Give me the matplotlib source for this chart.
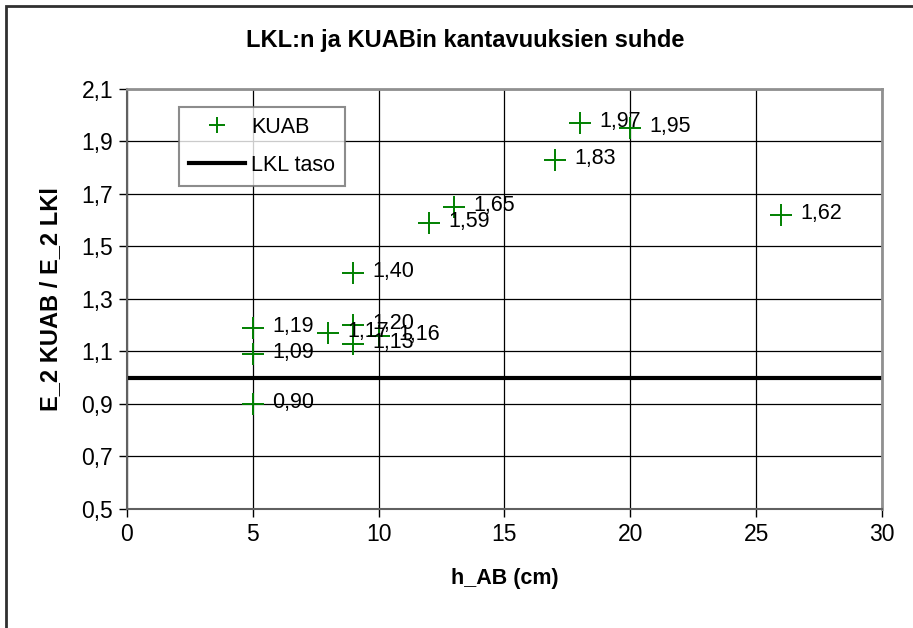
import matplotlib
matplotlib.use("Agg")
import matplotlib.pyplot as plt
from matplotlib.patches import Rectangle

# KUAB / LKL kantavuussuhteet
h_ab = [5, 5, 5, 8, 9, 9, 9, 10, 12, 13, 17, 18, 20, 26]
suhde = [1.19, 1.09, 0.90, 1.17, 1.20, 1.13, 1.40, 1.16, 1.59, 1.65, 1.83, 1.97, 1.95, 1.62]
lkl_taso = 1.0
y_ticks = [0.5, 0.7, 0.9, 1.1, 1.3, 1.5, 1.7, 1.9, 2.1]
x_ticks = [0, 5, 10, 15, 20, 25, 30]

plt.rcParams['font.family'] = ['Liberation Sans', 'DejaVu Sans']

fig = plt.figure(figsize=(9.13, 6.28), dpi=100)
ax = fig.add_axes([0.139, 0.1895, 0.827, 0.669])

ax.plot(h_ab, suhde, linestyle='none', marker='+', color='#008000',
        markersize=16, markeredgewidth=1.4, label='KUAB', zorder=3)
ax.axhline(lkl_taso, color='black', linewidth=3, label='LKL taso', zorder=2)

for x, y in zip(h_ab, suhde):
    ax.annotate(f"{y:.2f}".replace('.', ','), (x, y), xytext=(14, 1),
                textcoords='offset points', va='center', ha='left',
                fontsize=15.5, color='black', zorder=4)

ax.set_xlim(0, 30)
ax.set_ylim(0.5, 2.1)
ax.set_xticks(x_ticks)
ax.set_yticks(y_ticks)
ax.set_xticklabels([str(v) for v in x_ticks], fontsize=16.5)
ax.set_yticklabels([f"{v:.1f}".replace('.', ',') for v in y_ticks], fontsize=16.5)
ax.tick_params(direction='out', length=6, width=1, pad=4)
ax.grid(True, color='black', linewidth=0.9)
ax.set_axisbelow(True)

for side in ['top', 'right']:
    ax.spines[side].set_color('#909090')
    ax.spines[side].set_linewidth(2)
ax.spines['left'].set_color('#606060')
ax.spines['bottom'].set_color('#606060')
ax.spines['left'].set_linewidth(1.5)
ax.spines['bottom'].set_linewidth(1.5)

# otsikko keskitetään koko kuvan leveydelle
fig.text(0.51, 0.935, "LKL:n ja KUABin kantavuuksien suhde", fontsize=17,
         fontweight='bold', ha='center', va='center')
ax.set_xlabel("h_AB (cm)", fontsize=15.5, fontweight='bold', labelpad=16)
ax.set_ylabel("E_2 KUAB / E_2 LKl", fontsize=17, fontweight='bold', labelpad=14)

leg = ax.legend(loc='upper left', bbox_to_anchor=(0.069, 0.957), borderaxespad=0,
                fontsize=15.5, frameon=True, fancybox=False, handlelength=2.6,
                handletextpad=0.3, borderpad=0.45, labelspacing=0.8, markerscale=0.7)
leg.get_frame().set_edgecolor('#707070')
leg.get_frame().set_linewidth(1.5)

# kehys kuvan ympärille
fig.patches.append(Rectangle((0.007, -0.1), 1.2, 1.09, transform=fig.transFigure,
                             fill=False, edgecolor='#303030', linewidth=2))

plt.savefig("out.png", dpi=100)
